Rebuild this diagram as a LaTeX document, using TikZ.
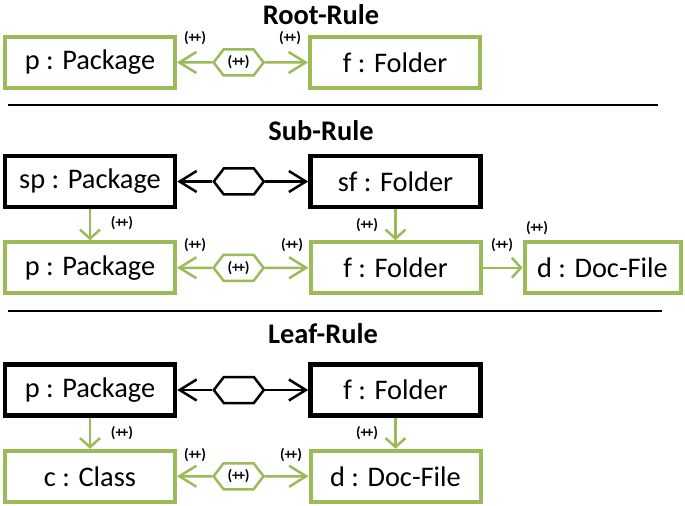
\documentclass[tikz,border=0pt]{standalone}
\usepackage{fontspec}
\setmainfont{Carlito}
\definecolor{ruleGreen}{RGB}{155, 187, 89}
\usetikzlibrary{arrows.meta, positioning, shapes.symbols}
\newcommand{\plusplus}{(+\kern-2.2pt+)}

\begin{document}
\begin{tikzpicture}[x=1bp, y=-1bp,
        obj/.style={rectangle, draw=ruleGreen, line width=4bp, minimum width=170bp,
                    minimum height=51bp, inner sep=2bp, font=\fontsize{28.5}{30}\selectfont},
        ctx/.style={obj, draw=black, line width=4.5bp},
        ruletitle/.style={font=\fontsize{28.5}{30}\selectfont\bfseries},
        hex/.style={signal, signal to=east and west, signal pointer angle=105,
                    draw=ruleGreen, line width=2.5bp, minimum width=50bp,
                    minimum height=26bp, inner sep=0pt, font=\fontsize{15}{15}\selectfont\bfseries},
        lbl/.style={inner sep=0pt, font=\fontsize{15}{15}\selectfont\bfseries},
        hexarr/.style={-{Straight Barb[length=17bp, width=21bp]}, ruleGreen, line width=2.5bp},
        hexarrK/.style={hexarr, black},
        link/.style={-{Straight Barb[length=9bp, width=20bp]}, ruleGreen, line width=2.5bp},
        rulesep/.style={black, line width=2bp}
      ]
      \useasboundingbox (0,0) rectangle (685,506);

      % Root-Rule
      \node[ruletitle] (troot) at (321,15) {Root-Rule};
      \node[obj] (rp) at (90,62.5) {p : Package};
      \node[obj, right=131bp of rp] (rf) {f : Folder};
      \node[hex, right=35bp of rp] (rh) {\plusplus};
      \draw[hexarr] (rh) -- (rp);
      \draw[hexarr] (rh) -- (rf);
      \node[lbl] (rl1) at (195,38) {\plusplus};
      \node[lbl] (rl2) at (290,38) {\plusplus};

      \draw[rulesep] (8,105) -- (658,105);

      % Sub-Rule
      \node[ruletitle] (tsub) at (321,131) {Sub-Rule};
      \node[ctx] (sp) at (90,181.5) {sp : Package};
      \node[ctx, right=131bp of sp] (sf) {sf : Folder};
      \node[hex, draw=black, right=35bp of sp] (sh) {};
      \draw[hexarrK] (sh) -- (sp);
      \draw[hexarrK] (sh) -- (sf);
      \node[obj, below=31bp of sp] (p) {p : Package};
      \node[obj, below=31bp of sf] (f) {f : Folder};
      \node[obj, right=40bp of f, minimum width=156bp] (d) {d : Doc-File};
      \node[hex, right=35bp of p] (h) {\plusplus};
      \draw[hexarr] (h) -- (p);
      \draw[hexarr] (h) -- (f);
      \draw[link] (sp) -- (p);
      \draw[link] (sf) -- (f);
      \draw[link] (f) -- (d);
      \node[lbl] (sl1) at (122,223) {\plusplus};
      \node[lbl] (sl2) at (367,225) {\plusplus};
      \node[lbl] (sl3) at (195,245) {\plusplus};
      \node[lbl] (sl4) at (292,245) {\plusplus};
      \node[lbl] (sl5) at (502,245) {\plusplus};
      \node[lbl] (sl6) at (537,228) {\plusplus};

      \draw[rulesep] (8,311) -- (662,311);

      % Leaf-Rule
      \node[ruletitle] (tleaf) at (323,334) {Leaf-Rule};
      \node[ctx] (lp) at (90,390) {p : Package};
      \node[ctx, right=131bp of lp] (lf) {f : Folder};
      \node[hex, draw=black, right=35bp of lp] (lh) {};
      \draw[hexarrK] (lh) -- (lp);
      \draw[hexarrK] (lh) -- (lf);
      \node[obj, below=31bp of lp] (lc) {c : Class};
      \node[obj, below=31bp of lf] (ld) {d : Doc-File};
      \node[hex, right=35bp of lc] (lh2) {\plusplus};
      \draw[hexarr] (lh2) -- (lc);
      \draw[hexarr] (lh2) -- (ld);
      \draw[link] (lp) -- (lc);
      \draw[link] (lf) -- (ld);
      \node[lbl] (ll1) at (122,433) {\plusplus};
      \node[lbl] (ll2) at (367,433) {\plusplus};
      \node[lbl] (ll3) at (195,455) {\plusplus};
      \node[lbl] (ll4) at (291,455) {\plusplus};
    \end{tikzpicture}
\end{document}
